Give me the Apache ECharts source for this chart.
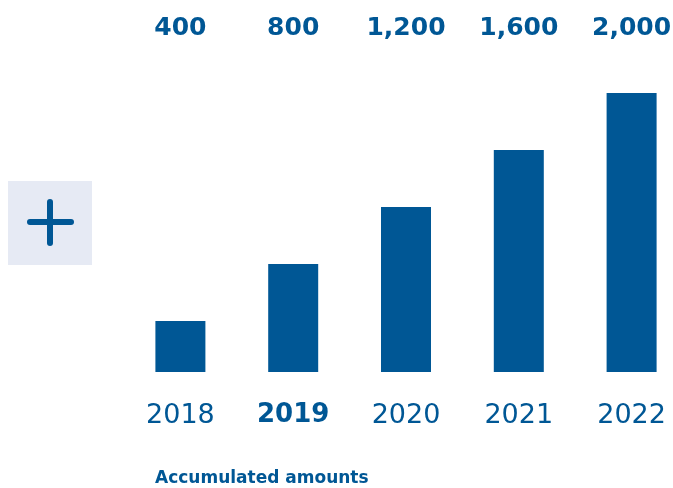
<!DOCTYPE html>
<html><head><meta charset="utf-8">
<script src="https://cdn.jsdelivr.net/npm/echarts@6/dist/echarts.min.js"></script>
<style>html,body{margin:0;padding:0;background:#fff}#c{width:673px;height:488px}</style>
</head><body><div id="c"></div>
<script>
const years = ['2018', '2019', '2020', '2021', '2022'];
const values = [400, 800, 1200, 1600, 2000];
const highlightYear = '2019';
const footnote = 'Accumulated amounts';

const BLUE = '#005795';
const FONT = 'DejaVu Sans';
const chart = echarts.init(document.getElementById('c'));
chart.setOption({
  animation: false,
  grid: { left: 124, width: 564, top: 93, bottom: 116, outerBoundsMode: 'none', containLabel: false },
  xAxis: [{
    type: 'category', data: years, position: 'bottom',
    axisLine: { show: false }, axisTick: { show: false },
    axisLabel: {
      interval: 0, hideOverlap: false,
      margin: 30, fontFamily: FONT, fontSize: 27, color: BLUE,
      formatter: v => v === highlightYear ? '{b|' + v + '}' : v,
      rich: { b: { fontFamily: FONT, fontSize: 26, fontWeight: 'bold', color: BLUE } }
    }
  }, {
    type: 'category', data: values.map(v => v.toLocaleString('en-US')), position: 'top',
    axisLine: { show: false }, axisTick: { show: false },
    axisLabel: { interval: 0, hideOverlap: false, margin: 52, fontFamily: FONT, fontSize: 25, fontWeight: 'bold', color: BLUE }
  }],
  yAxis: { type: 'value', min: 42, max: 2000, show: false, splitLine: { show: false } },
  series: [{
    type: 'bar', data: values, barWidth: 50, itemStyle: { color: BLUE }, xAxisIndex: 0
  }],
  graphic: [
    { type: 'rect', shape: { x: 8, y: 181, width: 84, height: 84 }, style: { fill: '#e6eaf4' } },
    { type: 'line', shape: { x1: 30, y1: 222, x2: 71, y2: 222 }, style: { stroke: BLUE, lineWidth: 6, lineCap: 'round' } },
    { type: 'line', shape: { x1: 50, y1: 202, x2: 50, y2: 243 }, style: { stroke: BLUE, lineWidth: 6, lineCap: 'round' } },
    { type: 'text', left: 155, top: 470, style: { text: footnote, font: 'bold 17px "DejaVu Sans"', fill: BLUE } }
  ]
});
</script></body></html>
